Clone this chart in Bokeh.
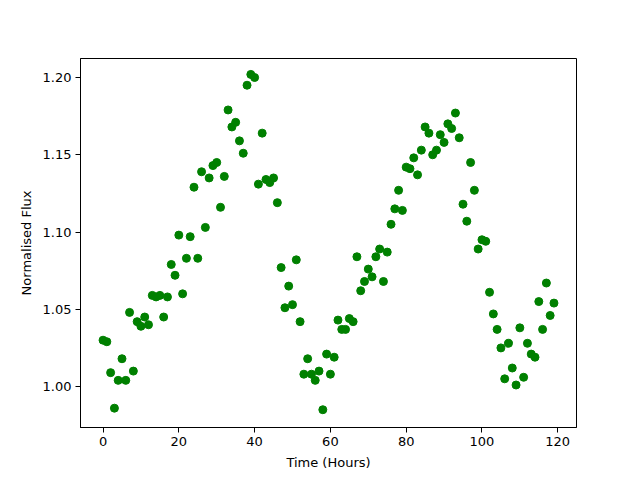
from bokeh.plotting import figure
from bokeh.embed import file_html
from bokeh.resources import INLINE
from bokeh.models import Range1d, FixedTicker, NumeralTickFormatter

hours = list(range(120))
flux = [1.030, 1.029, 1.009, 0.986, 1.004, 1.018, 1.004, 1.048, 1.010, 1.042,
        1.039, 1.045, 1.040, 1.059, 1.058, 1.059, 1.045, 1.058, 1.079, 1.072,
        1.098, 1.060, 1.083, 1.097, 1.129, 1.083, 1.139, 1.103, 1.135, 1.143,
        1.145, 1.116, 1.136, 1.179, 1.168, 1.171, 1.159, 1.151, 1.195, 1.202,
        1.200, 1.131, 1.164, 1.134, 1.132, 1.135, 1.119, 1.077, 1.051, 1.065,
        1.053, 1.082, 1.042, 1.008, 1.018, 1.008, 1.004, 1.010, 0.985, 1.021,
        1.008, 1.019, 1.043, 1.037, 1.037, 1.044, 1.042, 1.084, 1.062, 1.068,
        1.076, 1.071, 1.084, 1.089, 1.068, 1.087, 1.105, 1.115, 1.127, 1.114,
        1.142, 1.141, 1.148, 1.137, 1.153, 1.168, 1.164, 1.150, 1.153, 1.163,
        1.158, 1.170, 1.167, 1.177, 1.161, 1.118, 1.107, 1.145, 1.127, 1.089,
        1.095, 1.094, 1.061, 1.047, 1.037, 1.025, 1.005, 1.028, 1.012, 1.001,
        1.038, 1.006, 1.028, 1.021, 1.019, 1.055, 1.037, 1.067, 1.046, 1.054]

x_ticks = [0, 20, 40, 60, 80, 100, 120]
y_ticks = [1.00, 1.05, 1.10, 1.15, 1.20]

p = figure(width=640, height=480, output_backend="svg", toolbar_location=None,
           x_range=Range1d(-5.95, 124.95), y_range=Range1d(0.9735, 1.2123),
           min_border_left=80, min_border_right=64, min_border_top=58, min_border_bottom=53)

p.scatter(hours, flux, size=8, color="#008000", line_color="#008000")

p.xgrid.visible = False
p.ygrid.visible = False
p.outline_line_color = "black"
p.outline_line_width = 1
p.outline_line_alpha = 1

p.xaxis.ticker = FixedTicker(ticks=x_ticks)
p.yaxis.ticker = FixedTicker(ticks=y_ticks)
p.yaxis.formatter = NumeralTickFormatter(format="0.00")
p.xaxis.axis_label = "Time (Hours)"
p.yaxis.axis_label = "Normalised Flux"

for ax in (p.xaxis, p.yaxis):
    ax.axis_label_text_font = "DejaVu Sans"
    ax.axis_label_text_font_style = "normal"
    ax.axis_label_text_font_size = "13px"
    ax.axis_label_text_color = "black"
    ax.major_label_text_font = "DejaVu Sans"
    ax.major_label_text_font_size = "13px"
    ax.major_label_text_color = "black"
    ax.axis_line_color = "black"
    ax.major_tick_line_color = "black"
    ax.major_tick_out = 5
    ax.major_tick_in = 0
    ax.minor_tick_line_color = None
    ax.major_label_standoff = 4
    ax.axis_label_standoff = 6

open("out.html", "w").write(file_html(p, INLINE))
